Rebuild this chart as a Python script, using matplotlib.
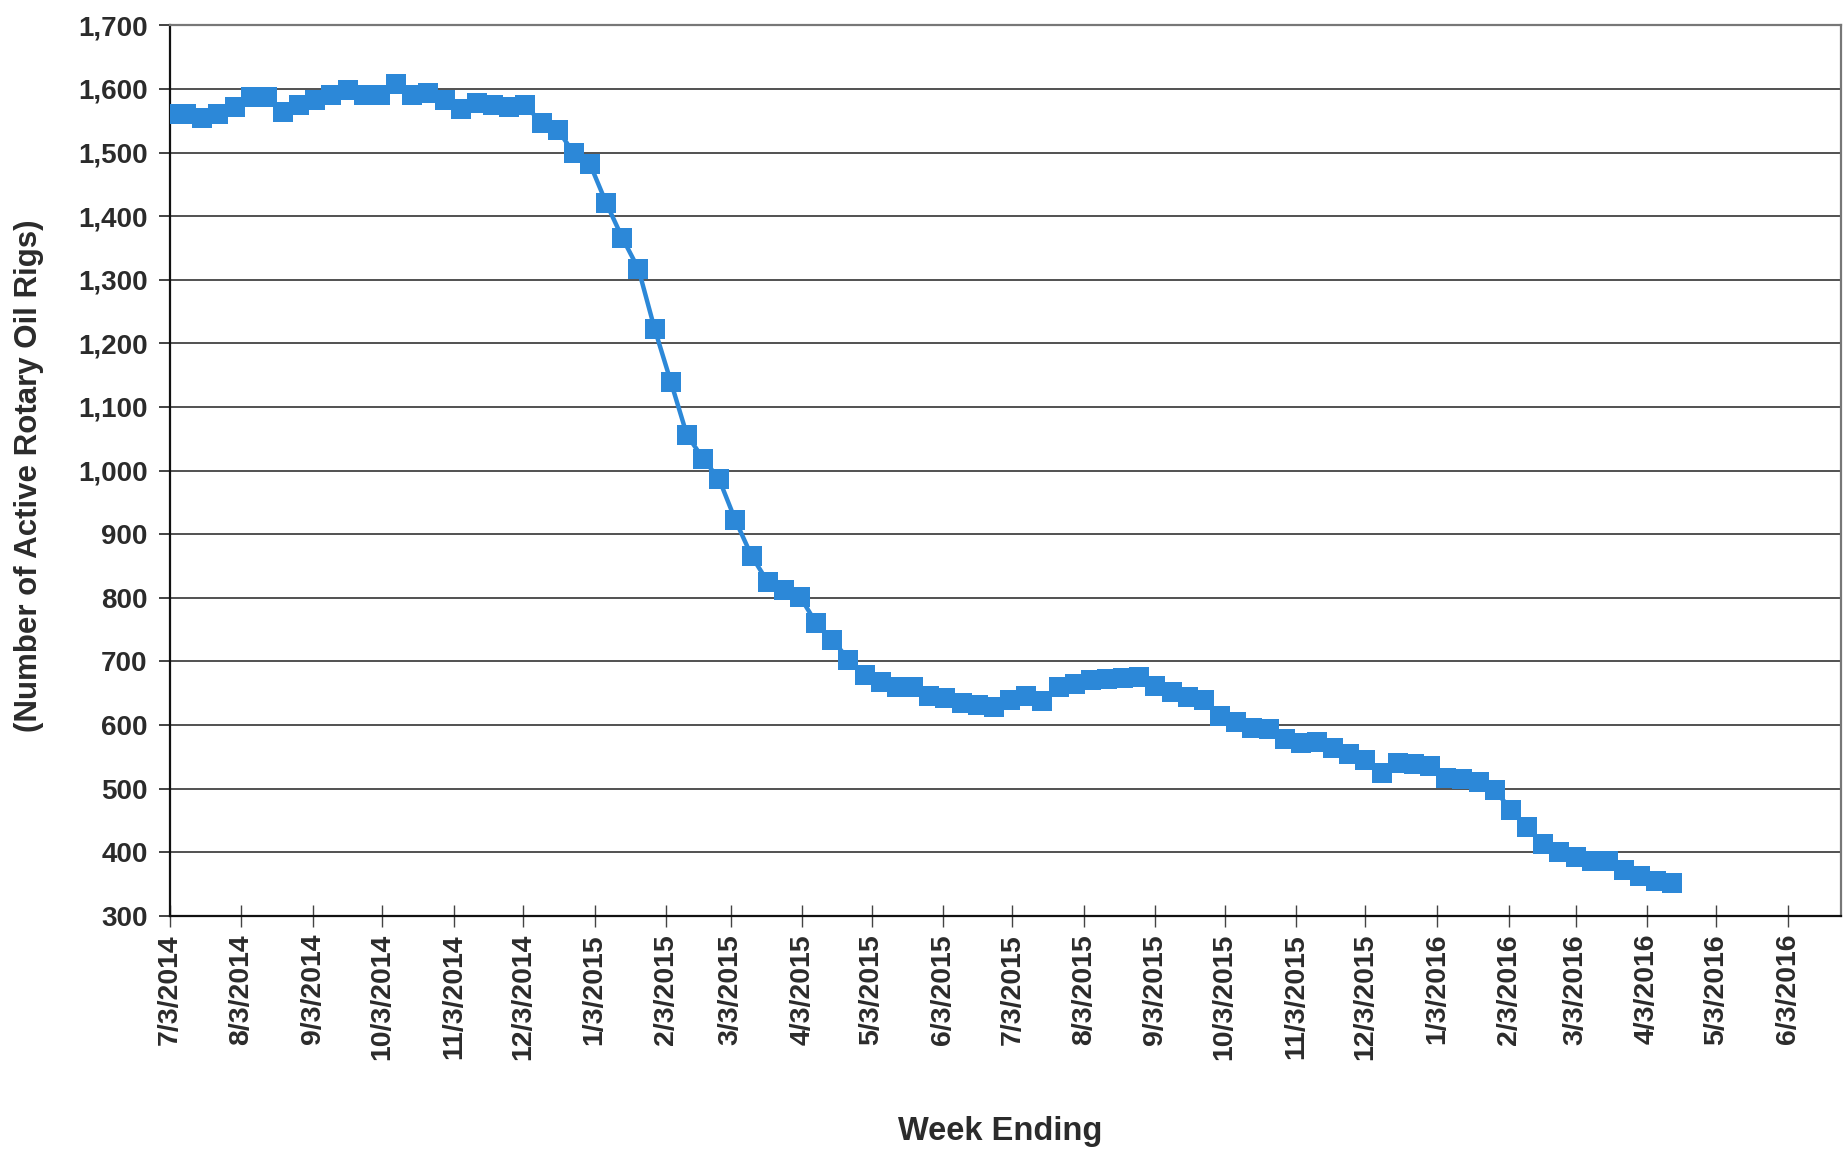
import matplotlib
matplotlib.use("Agg")
import matplotlib.pyplot as plt
import matplotlib.dates as mdates
import matplotlib.ticker as mticker
import pandas as pd

# weekly active rotary oil rig count, starting week of 7/3/2014
start_week = "2014-07-03"
rigs_2014 = [1561, 1561, 1554, 1561, 1571, 1587, 1588, 1563, 1574, 1582,
             1591, 1599, 1591, 1590, 1607, 1590, 1594, 1582, 1568, 1578,
             1575, 1572, 1575, 1546, 1536, 1499, 1482]
rigs_2015 = [1421, 1366, 1317, 1223, 1140, 1056, 1019, 986, 922, 866,
             825, 813, 802, 760, 734, 703, 679, 668, 660, 659,
             646, 642, 635, 631, 628, 640, 645, 638, 659, 664,
             670, 672, 674, 675, 662, 652, 644, 640, 614, 605,
             595, 594, 578, 572, 574, 564, 555, 545, 524, 541,
             538, 536]
rigs_2016 = [516, 515, 510, 498, 467, 439, 413, 400, 392, 386,
             387, 372, 362, 354, 351]

rigs = rigs_2014 + rigs_2015 + rigs_2016
weeks = pd.date_range(start_week, periods=len(rigs), freq="7D")

y_ticks = list(range(300, 1701, 100))
# month ticks on the 3rd, 7/3/2014 .. 6/3/2016
x_ticks = pd.date_range("2014-07-01", "2016-06-01", freq="MS") + pd.Timedelta(days=2)

text_color = "#2b2b2b"
blue = "#2c88d8"

plt.rcParams["font.family"] = ["Liberation Sans", "DejaVu Sans"]
plt.rcParams["font.weight"] = "bold"

fig = plt.figure(figsize=(18.45, 11.52), dpi=100)
ax = fig.add_axes([0.0921, 0.205, 0.9057, 0.773])

ax.plot(weeks, rigs, color=blue, lw=3.2, marker="s", markersize=14.5,
        markeredgewidth=0, zorder=3)

ax.set_ylim(300, 1700)
ax.set_xlim(pd.Timestamp("2014-07-03"), pd.Timestamp("2016-06-26"))
ax.set_yticks(y_ticks)
ax.yaxis.set_major_formatter(mticker.StrMethodFormatter("{x:,.0f}"))
ax.set_xticks(x_ticks)
ax.xaxis.set_major_formatter(
    mticker.FuncFormatter(lambda v, pos: "{d.month}/{d.day}/{d.year}".format(d=mdates.num2date(v))))

ax.grid(axis="y", color="#222222", lw=1.1)
ax.set_axisbelow(True)

ax.tick_params(axis="y", direction="out", length=8, width=1.2, pad=8,
               labelsize=20, colors="#222222", labelcolor=text_color)
ax.tick_params(axis="x", direction="inout", length=16, width=1.0, pad=5,
               labelsize=20.5, colors="#444444", labelcolor=text_color,
               labelrotation=90)
for lab in ax.get_xticklabels() + ax.get_yticklabels():
    lab.set_fontweight("bold")

for side in ("left", "bottom"):
    ax.spines[side].set_color("#111111")
    ax.spines[side].set_linewidth(1.6)
for side in ("top", "right"):
    ax.spines[side].set_color("#777777")
    ax.spines[side].set_linewidth(1.6)

fig.text(0.542, 0.004, "Week Ending", ha="center", va="bottom",
         fontsize=23.5, fontweight="bold", color=text_color)
fig.text(0.0155, 0.587, "(Number of Active Rotary Oil Rigs)", ha="center",
         va="center", rotation=90, fontsize=22.5, fontweight="bold",
         color=text_color)

fig.savefig("out.png", dpi=100, facecolor="white")
